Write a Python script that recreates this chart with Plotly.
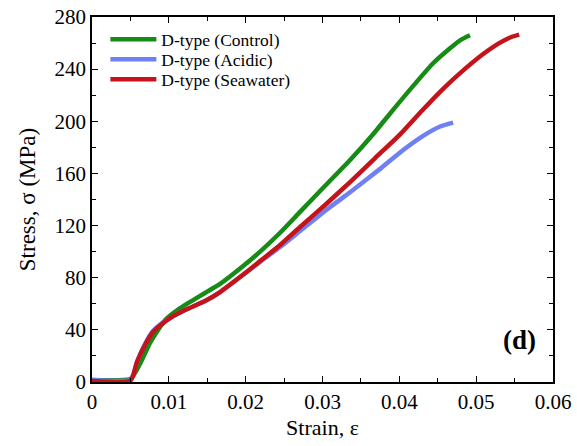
import plotly.graph_objects as go

# Strain / stress data
control_strain = [0, 0.00495, 0.0056, 0.0065, 0.00755, 0.0086, 0.00964, 0.01094, 0.01276, 0.01471,
                  0.01667, 0.01927, 0.02188, 0.02448, 0.02708, 0.03034, 0.03359, 0.0365, 0.0388,
                  0.0420, 0.0444, 0.0466, 0.0480, 0.0492]
control_stress = [1.5, 2.3, 6.9, 16.9, 29.9, 39.9, 48.3, 54.5, 61.4, 68.3,
                  75.2, 87.0, 100.0, 114.5, 130.5, 150.5, 170.3, 189.5, 206.0,
                  228.5, 244.5, 256.0, 262.5, 266.0]

acidic_strain = [0, 0.00495, 0.00534, 0.00586, 0.0069, 0.00794, 0.00911, 0.01016, 0.01211, 0.01471,
                 0.01667, 0.01927, 0.02188, 0.02448, 0.02708, 0.03099, 0.03359, 0.0375, 0.0405,
                 0.0430, 0.0453, 0.0470]
acidic_stress = [1.5, 1.5, 4.6, 15.3, 29.1, 39.1, 45.3, 49.1, 55.2, 62.1,
                 69.0, 80.5, 92.1, 103.6, 115.8, 134.2, 145.5, 163.5, 178.0,
                 188.5, 196.0, 199.0]

seawater_strain = [0, 0.00495, 0.00534, 0.00586, 0.0069, 0.00794, 0.00911, 0.01016, 0.01211, 0.01471,
                   0.01667, 0.01927, 0.02188, 0.02448, 0.02708, 0.03034, 0.03359, 0.03685, 0.0401,
                   0.0430, 0.0458, 0.0485, 0.0510, 0.0530, 0.0545, 0.0556]
seawater_stress = [0.8, 0.8, 4.6, 15.3, 28.4, 38.4, 44.5, 49.1, 55.2, 62.1,
                   69.0, 80.5, 92.8, 105.1, 118.9, 135.8, 153.4, 171.8, 190.0,
                   208.5, 225.5, 240.0, 252.0, 260.0, 264.5, 266.5]

series_names = ["D-type (Control)", "D-type (Acidic)", "D-type (Seawater)"]
x_ticks = [0, 0.01, 0.02, 0.03, 0.04, 0.05, 0.06]
x_tick_labels = ["0", "0.01", "0.02", "0.03", "0.04", "0.05", "0.06"]
y_ticks = [0, 40, 80, 120, 160, 200, 240, 280]

colors = ["#168c16", "#6f80f5", "#c51419"]
FONT = "Liberation Serif"
legend_ids = ["legend", "legend2", "legend3"]
legend_y = [0.939, 0.884, 0.829]

fig = go.Figure()
for xs, ys, name, c, lg in [(control_strain, control_stress, series_names[0], colors[0], legend_ids[0]),
                            (acidic_strain, acidic_stress, series_names[1], colors[1], legend_ids[1]),
                            (seawater_strain, seawater_stress, series_names[2], colors[2], legend_ids[2])]:
    fig.add_trace(go.Scatter(x=xs, y=ys, mode="lines", name=name, legend=lg,
                             line=dict(color=c, width=4.5, shape="spline", smoothing=0.6)))

axis_common = dict(showgrid=False, zeroline=False, showline=True, linecolor="black", linewidth=1.5,
                   mirror="ticks", ticks="inside", ticklen=6, tickwidth=1.2, tickcolor="black",
                   automargin=False,
                   tickfont=dict(family=FONT, size=21, color="black"))

fig.update_xaxes(range=[0, 0.06], tickvals=x_ticks, ticktext=x_tick_labels,
                 title=dict(text="Strain, ε", font=dict(family=FONT, size=22, color="black"), standoff=7),
                 minor=dict(ticks="inside", ticklen=4, tickwidth=1.2, tickcolor="black", dtick=0.005),
                 **axis_common)
fig.update_yaxes(range=[0, 280], tickvals=y_ticks,
                 title=dict(text="Stress, σ (MPa)", font=dict(family=FONT, size=23, color="black"), standoff=12),
                 minor=dict(ticks="inside", ticklen=4, tickwidth=1.2, tickcolor="black", dtick=20),
                 **axis_common)

fig.add_annotation(x=0.0556, y=32, xref="x", yref="y", text="<b>(d)</b>", showarrow=False,
                   font=dict(family=FONT, size=27, color="black"))

legend_common = dict(x=0.029, xanchor="left", yanchor="middle", bgcolor="rgba(0,0,0,0)",
                     font=dict(family=FONT, size=17.5, color="black"), itemwidth=46,
                     borderwidth=0)

fig.update_layout(
    width=577, height=446,
    margin=dict(l=92, r=24, t=17, b=64),
    plot_bgcolor="white", paper_bgcolor="white",
    legend=dict(y=legend_y[0], **legend_common),
    legend2=dict(y=legend_y[1], **legend_common),
    legend3=dict(y=legend_y[2], **legend_common),
    showlegend=True,
)

fig.write_html("out.html")
